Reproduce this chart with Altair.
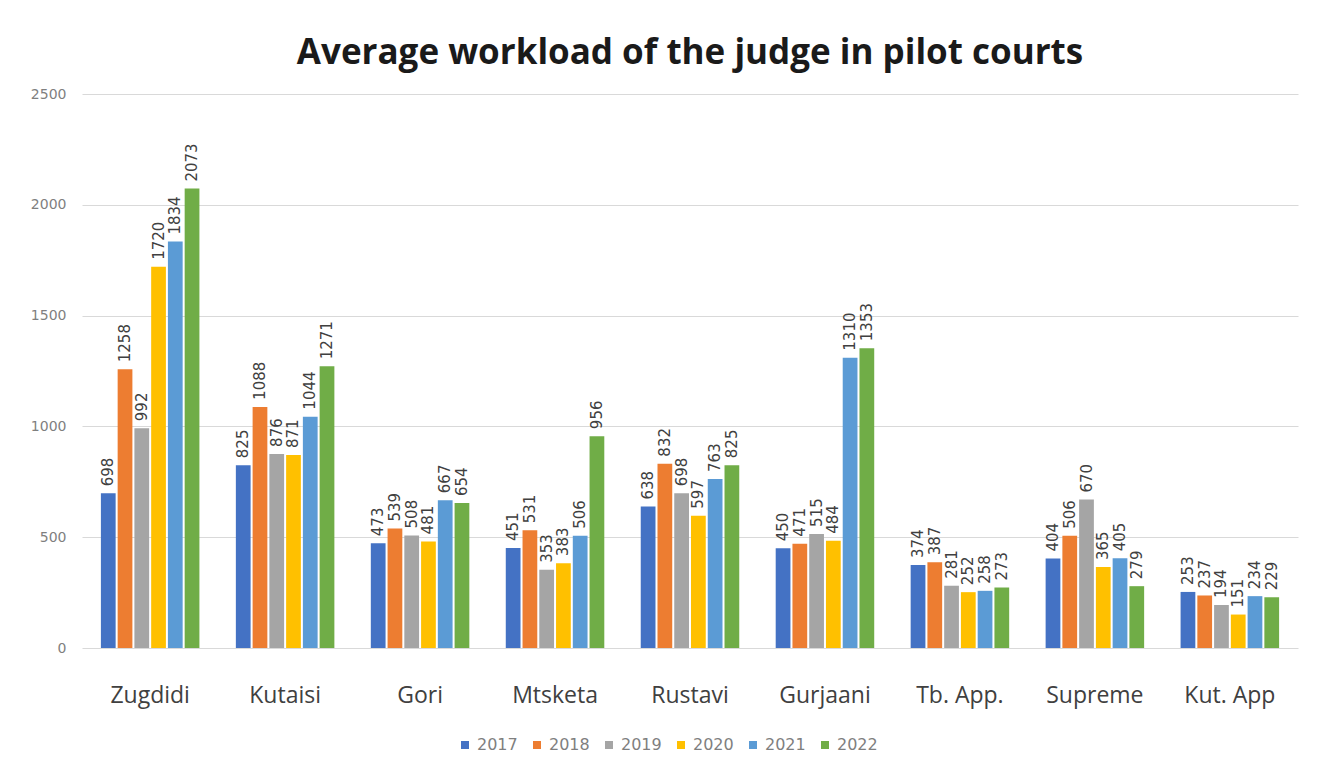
import altair as alt
import pandas as pd

courts = ["Zugdidi", "Kutaisi", "Gori", "Mtsketa", "Rustavi", "Gurjaani", "Tb. App.", "Supreme", "Kut. App"]
years = ["2017", "2018", "2019", "2020", "2021", "2022"]
v2017 = [698, 825, 473, 451, 638, 450, 374, 404, 253]
v2018 = [1258, 1088, 539, 531, 832, 471, 387, 506, 237]
v2019 = [992, 876, 508, 353, 698, 515, 281, 670, 194]
v2020 = [1720, 871, 481, 383, 597, 484, 252, 365, 151]
v2021 = [1834, 1044, 667, 506, 763, 1310, 258, 405, 234]
v2022 = [2073, 1271, 654, 956, 825, 1353, 273, 279, 229]
colors = ["#4472C4", "#ED7D31", "#A5A5A5", "#FFC000", "#5B9BD5", "#70AD47"]

series = [v2017, v2018, v2019, v2020, v2021, v2022]
rows = []
for y, vals in zip(years, series):
    for c, v in zip(courts, vals):
        rows.append({"court": c, "year": y, "value": v})
df = pd.DataFrame(rows)

x = alt.X("court:N", sort=courts, title=None,
          scale=alt.Scale(paddingInner=0.27, paddingOuter=0.14),
          axis=alt.Axis(labelAngle=0, labelFontSize=23, labelColor="#404040",
                        labelPadding=36, ticks=False, domain=False, grid=False,
                        labelFont="Open Sans"))
xo = alt.XOffset("year:N", sort=years, scale=alt.Scale(paddingInner=0.12))
y = alt.Y("value:Q", title=None,
          scale=alt.Scale(domain=[0, 2500]),
          axis=alt.Axis(values=[0, 500, 1000, 1500, 2000, 2500], format="d",
                        labelFontSize=14, labelColor="#7F7F7F", labelPadding=16,
                        ticks=False, domain=False, gridColor="#D9D9D9",
                        labelFont="DejaVu Sans"))
color = alt.Color("year:N", sort=years, title=None,
                  scale=alt.Scale(domain=years, range=colors),
                  legend=alt.Legend(orient="none", direction="horizontal",
                                    legendX=375, legendY=643, symbolType="square",
                                    symbolSize=64, labelFontSize=16, labelOffset=4,
                                    labelColor="#7F7F7F", columnPadding=11,
                                    labelFont="DejaVu Sans", symbolStrokeWidth=0))

base = alt.Chart(df).encode(x=x, xOffset=xo, y=y)
bars = base.mark_bar().encode(color=color)
labels = base.mark_text(angle=270, align="left", baseline="middle", dx=7,
                        fontSize=15, color="#404040", font="DejaVu Sans").encode(
    text=alt.Text("value:Q"))

chart = (bars + labels).properties(
    width=1216, height=554,
    background="white",
    title=alt.TitleParams("Average workload of the judge in pilot courts",
                          fontSize=35, font="Open Sans", fontWeight="bold",
                          color="#1a1a1a", anchor="middle", offset=16),
    autosize=alt.AutoSizeParams(type="none"),
    padding={"left": 82, "top": 94, "right": 30, "bottom": 128},
).configure_view(stroke=None)

chart.save("out.html", embed_options={"renderer": "svg", "actions": False})
